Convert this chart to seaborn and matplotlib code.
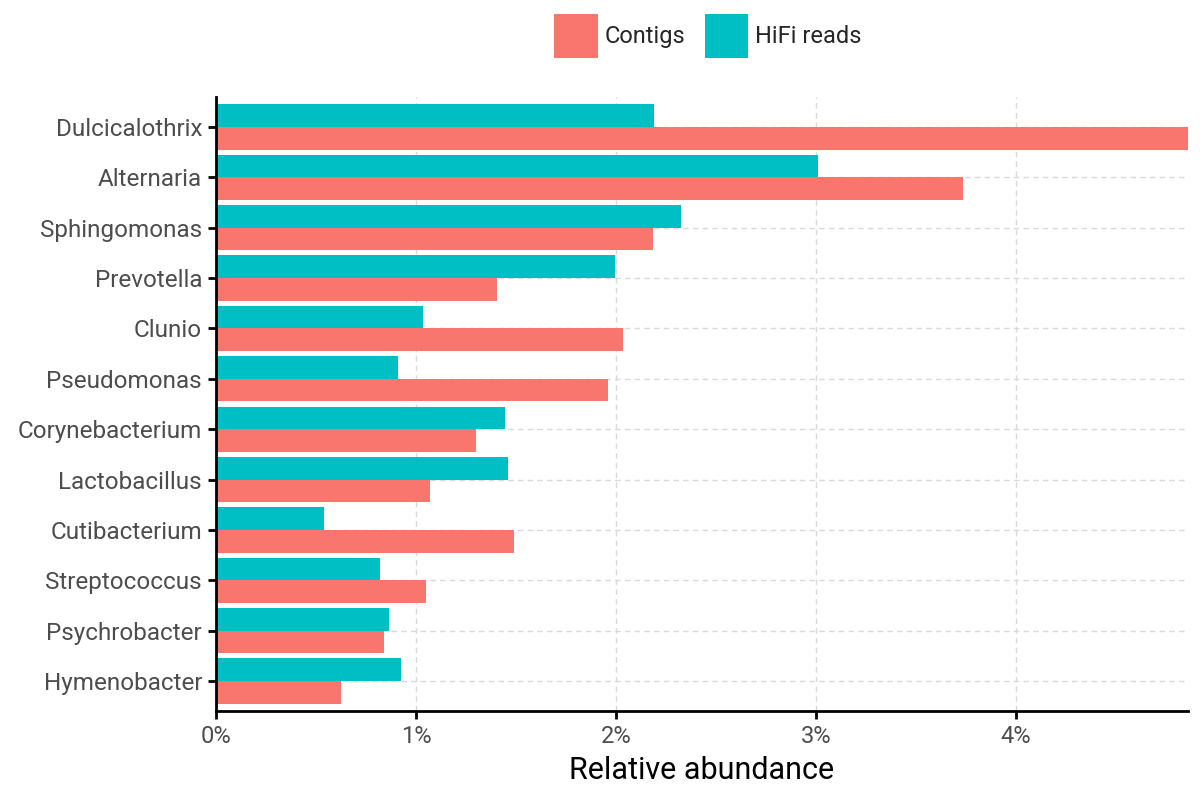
import pandas as pd
import matplotlib
matplotlib.use('Agg')
import matplotlib.pyplot as plt
import seaborn as sns
from matplotlib.patches import Patch
from matplotlib.ticker import FuncFormatter

genera = ['Dulcicalothrix', 'Alternaria', 'Sphingomonas', 'Prevotella', 'Clunio',
          'Pseudomonas', 'Corynebacterium', 'Lactobacillus', 'Cutibacterium',
          'Streptococcus', 'Psychrobacter', 'Hymenobacter']
hifi = [2.19, 3.01, 2.325, 1.995, 1.035, 0.91, 1.445, 1.46, 0.54, 0.82, 0.865, 0.925]
contigs = [4.86, 3.735, 2.185, 1.405, 2.035, 1.96, 1.30, 1.07, 1.49, 1.05, 0.84, 0.625]
sources = ['Contigs', 'HiFi reads']
colors = {'Contigs': '#F8766D', 'HiFi reads': '#00BFC4'}


def main():
    df = pd.concat([
        pd.DataFrame({'genus': genera, 'abundance': hifi, 'source': 'HiFi reads'}),
        pd.DataFrame({'genus': genera, 'abundance': contigs, 'source': 'Contigs'}),
    ])

    sns.set_style('white')
    plt.rcParams['font.family'] = ['Roboto', 'DejaVu Sans']

    fig = plt.figure(figsize=(12, 8), dpi=100)
    ax = fig.add_axes([0.18, 0.111, 0.81, 0.768])

    sns.barplot(data=df, y='genus', x='abundance', hue='source',
                order=genera, hue_order=['HiFi reads', 'Contigs'],
                palette=colors, width=0.9, saturation=1, gap=0,
                linewidth=0, edgecolor='none',
                orient='h', legend=False, ax=ax)

    # seaborn switches the categorical grid off, put both back under the bars
    ax.set_axisbelow(True)
    ax.grid(True, axis='both', color='#d9d9d9', linestyle=(0, (4, 3)), linewidth=1)

    ax.set_xlim(0, 4.86)
    ax.set_ylim(len(genera) - 0.4, -0.6)
    ax.set_xticks([0, 1, 2, 3, 4])
    ax.xaxis.set_major_formatter(FuncFormatter(lambda v, p: f'{v:.0f}%'))

    for s in ['top', 'right']:
        ax.spines[s].set_visible(False)
    for s in ['left', 'bottom']:
        ax.spines[s].set_color('black')
        ax.spines[s].set_linewidth(2)

    ax.tick_params(axis='both', left=True, bottom=True, length=6, width=2,
                   color='black', labelcolor='#4d4d4d', pad=4)
    ax.tick_params(axis='x', labelsize=17)
    ax.tick_params(axis='y', labelsize=17.5)

    ax.set_ylabel('')
    ax.set_xlabel('Relative abundance', fontsize=22, color='black', labelpad=6)

    handles = [Patch(facecolor=colors[s], edgecolor='none', label=s) for s in sources]
    fig.legend(handles=handles, loc='center', bbox_to_anchor=(0.59, 0.955), ncol=2,
               frameon=False, fontsize=17, handlelength=1.85, handleheight=2.55,
               handletextpad=0.3, columnspacing=0.8)

    fig.savefig('out.png', dpi=100)


if __name__ == '__main__': main()
